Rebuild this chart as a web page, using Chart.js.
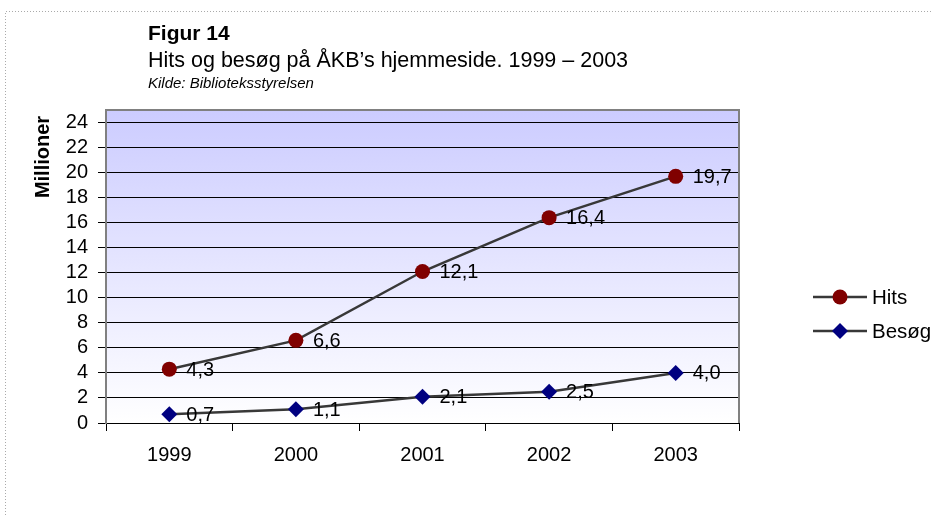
<!DOCTYPE html>
<html>
<head>
<meta charset="utf-8">
<script src="https://cdn.jsdelivr.net/npm/chart.js@4"></script>
<style>
  body { margin: 0; background: #fff; }
  canvas { display: block; }
</style>
</head>
<body>
<canvas id="lineChart" width="931" height="515"></canvas>
<script>
const FONT = "'Liberation Sans', Arial, sans-serif"

// data
const years = ['1999', '2000', '2001', '2002', '2003']
const hits = [4.3, 6.6, 12.1, 16.4, 19.7]
const besoeg = [0.7, 1.1, 2.1, 2.5, 4.0]
const seriesNames = ['Hits', 'Besøg']

const titleText = 'Figur 14'
const subtitleText = 'Hits og besøg på ÅKB\u2019s hjemmeside. 1999 \u2013 2003'
const sourceText = 'Kilde: Biblioteksstyrelsen'
const yTitle = 'Millioner'

const CHART = document.getElementById('lineChart')

const decorations = {
    id: 'decorations',
    beforeDraw(chart) {
        const ctx = chart.ctx
        const a = chart.chartArea
        ctx.save()
        ctx.fillStyle = '#fff'
        ctx.fillRect(0, 0, chart.width, chart.height)

        // dotted frame
        ctx.strokeStyle = '#aaa'
        ctx.lineWidth = 1
        ctx.setLineDash([1, 2])
        ctx.beginPath()
        ctx.moveTo(chart.width, 11.5)
        ctx.lineTo(5.5, 11.5)
        ctx.lineTo(5.5, chart.height)
        ctx.stroke()
        ctx.setLineDash([])

        // plot background
        const g = ctx.createLinearGradient(0, a.top, 0, a.bottom)
        g.addColorStop(0, '#ccccff')
        g.addColorStop(1, '#ffffff')
        ctx.fillStyle = g
        ctx.fillRect(a.left, a.top, a.right - a.left, a.bottom - a.top)

        // titles
        ctx.fillStyle = '#000'
        ctx.textAlign = 'left'
        ctx.textBaseline = 'alphabetic'
        ctx.font = 'bold 21px ' + FONT
        ctx.fillText(titleText, 148, 40)
        ctx.font = '21.5px ' + FONT
        ctx.fillText(subtitleText, 148, 67)
        ctx.font = 'italic 15px ' + FONT
        ctx.fillText(sourceText, 148, 88)

        // y axis title
        ctx.save()
        ctx.translate(43, 157)
        ctx.rotate(-Math.PI / 2)
        ctx.textAlign = 'center'
        ctx.textBaseline = 'middle'
        ctx.font = 'bold 20px ' + FONT
        ctx.fillText(yTitle, 0, 0)
        ctx.restore()
        ctx.restore()
    },
    beforeDatasetsDraw(chart) {
        const ctx = chart.ctx
        const a = chart.chartArea
        ctx.save()
        ctx.strokeStyle = '#808080'
        ctx.lineWidth = 2
        ctx.beginPath()
        ctx.moveTo(a.left, a.top)
        ctx.lineTo(a.right, a.top)
        ctx.lineTo(a.right, a.bottom)
        ctx.stroke()
        ctx.restore()
    },
    afterDatasetsDraw(chart) {
        const ctx = chart.ctx
        ctx.save()
        ctx.fillStyle = '#000'
        ctx.font = '20px ' + FONT
        ctx.textAlign = 'left'
        ctx.textBaseline = 'middle'
        chart.data.datasets.forEach((ds, i) => {
            chart.getDatasetMeta(i).data.forEach((pt, j) => {
                ctx.fillText(ds.data[j].toFixed(1).replace('.', ','), pt.x + 17, pt.y + 1)
            })
        })

        // legend
        const legendY = [297, 331]
        chart.data.datasets.forEach((ds, i) => {
            const y = legendY[i]
            ctx.strokeStyle = ds.borderColor
            ctx.lineWidth = 2.5
            ctx.beginPath()
            ctx.moveTo(813, y)
            ctx.lineTo(867, y)
            ctx.stroke()
            ctx.fillStyle = ds.pointBackgroundColor
            ctx.beginPath()
            if (ds.pointStyle === 'circle') {
                ctx.arc(840, y, 7.5, 0, Math.PI * 2)
            } else {
                ctx.moveTo(840, y - 8)
                ctx.lineTo(848, y)
                ctx.lineTo(840, y + 8)
                ctx.lineTo(832, y)
                ctx.closePath()
            }
            ctx.fill()
            ctx.fillStyle = '#000'
            ctx.font = '20.5px ' + FONT
            ctx.fillText(ds.label, 872, y + 1)
        })
        ctx.restore()
    }
}

let lineChart = new Chart(CHART, {
    type: 'line',
    data: {
        labels: years,
        datasets: [
            {
                label: seriesNames[0],
                data: hits,
                borderColor: '#383838',
                borderWidth: 2.5,
                pointStyle: 'circle',
                pointRadius: 7.5,
                pointBackgroundColor: '#800000',
                pointBorderColor: '#800000',
                pointBorderWidth: 0,
                tension: 0
            },
            {
                label: seriesNames[1],
                data: besoeg,
                borderColor: '#383838',
                borderWidth: 2.5,
                pointStyle: 'rectRot',
                pointRadius: 8,
                pointBackgroundColor: '#000080',
                pointBorderColor: '#000080',
                pointBorderWidth: 0,
                tension: 0
            }
        ]
    },
    options: {
        responsive: false,
        animation: false,
        events: [],
        layout: { padding: { left: 0, top: 110, right: 192, bottom: 0 } },
        plugins: {
            legend: { display: false },
            tooltip: { enabled: false }
        },
        scales: {
            x: {
                offset: true,
                afterFit: s => { s.height = 92 },
                grid: {
                    offset: true,
                    drawOnChartArea: false,
                    drawTicks: true,
                    tickLength: 8,
                    color: '#000'
                },
                border: { color: '#000', width: 1 },
                ticks: {
                    color: '#000',
                    padding: 12,
                    font: { family: FONT, size: 20 }
                }
            },
            y: {
                min: 0,
                max: 25,
                afterFit: s => { s.width = 106 },
                grid: {
                    color: '#000',
                    lineWidth: 1,
                    tickLength: 8
                },
                border: { color: '#808080', width: 2 },
                ticks: {
                    stepSize: 2,
                    autoSkip: false,
                    includeBounds: false,
                    color: '#000',
                    padding: 10,
                    font: { family: FONT, size: 20 }
                }
            }
        }
    },
    plugins: [decorations]
})
</script>
</body>
</html>
